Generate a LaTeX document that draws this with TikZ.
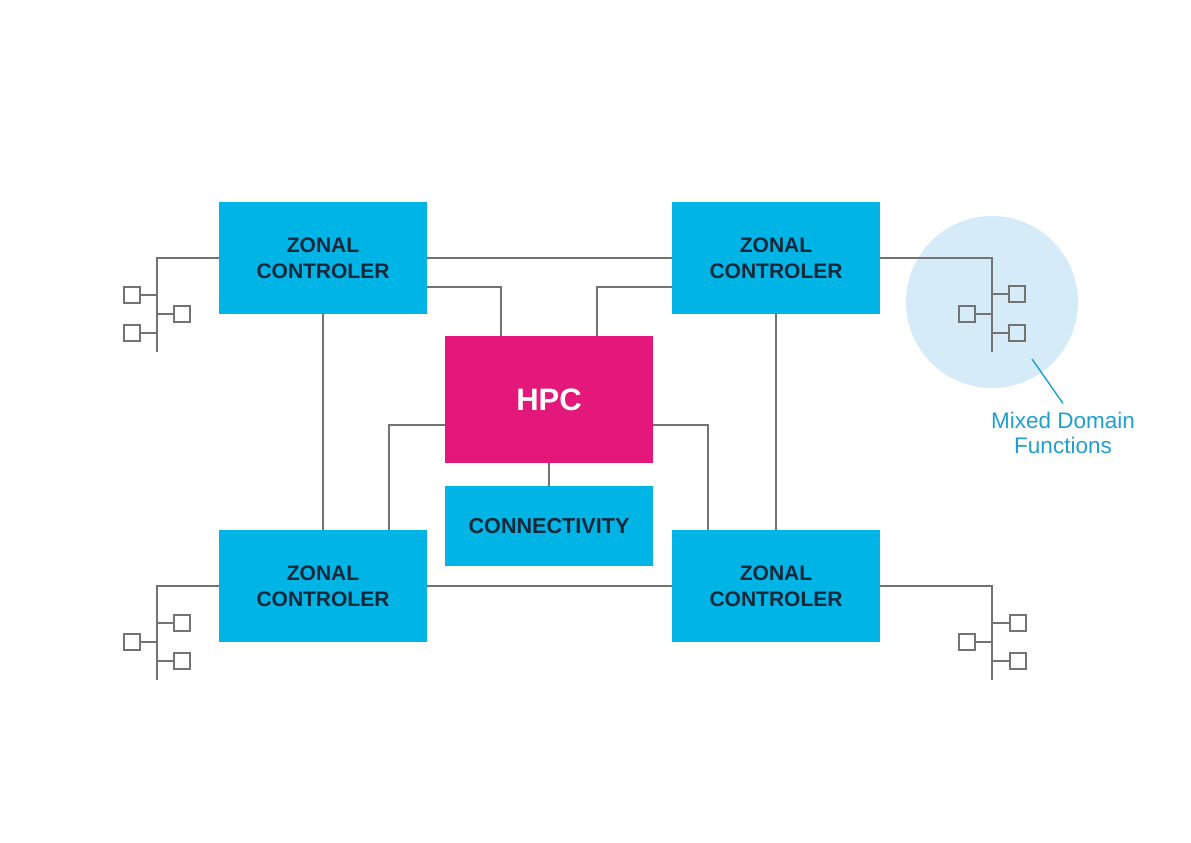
\documentclass[tikz,border=0pt]{standalone}
\usepackage{fontspec}
\setmainfont{Liberation Sans}
\definecolor{zcblue}{HTML}{00B4E6}
\definecolor{hpcmag}{HTML}{E4177A}
\definecolor{txtdark}{HTML}{14283A}
\definecolor{wire}{HTML}{737373}
\definecolor{halo}{HTML}{D5EBF8}
\definecolor{labblue}{HTML}{1E9FD2}
\tikzset{
  zcbox/.style={fill=zcblue, minimum width=208pt, minimum height=112pt, inner sep=0pt, align=center, text=txtdark, font=\fontsize{21}{26}\selectfont\bfseries},
  hpcbox/.style={fill=hpcmag, minimum width=208pt, minimum height=127pt, inner sep=0pt, text=white, font=\fontsize{31}{36}\selectfont\bfseries},
  connbox/.style={fill=zcblue, minimum width=208pt, minimum height=80pt, inner sep=0pt, text=txtdark, font=\fontsize{21.6}{26}\selectfont\bfseries},
  wireline/.style={draw=wire, line width=2pt},
  leaf/.style={draw=wire, line width=2pt, minimum width=16pt, minimum height=16pt, inner sep=0pt, fill=none},
}
\begin{document}
\begin{tikzpicture}[x=1pt,y=-1pt]
\useasboundingbox (0,0) rectangle (1191,843);
% halo
\fill[halo] (992,302) circle (86);
% main boxes
\node[zcbox] (tl) at (323,258) {ZONAL\\CONTROLER};
\node[zcbox] (tr) at (776,258) {ZONAL\\CONTROLER};
\node[zcbox] (bl) at (323,586) {ZONAL\\CONTROLER};
\node[zcbox] (br) at (776,586) {ZONAL\\CONTROLER};
\node[hpcbox] (hpc) at (549,399.5) {HPC};
\node[connbox] (conn) at (549,526) {CONNECTIVITY};
% connectors between boxes
\draw[wireline] (tl.east) -- (tr.west);
\draw[wireline] (bl.east) -- (br.west);
\draw[wireline] (tl.south) -- (bl.north);
\draw[wireline] (tr.south) -- (br.north);
\draw[wireline] (hpc.south) -- (conn.north);
\draw[wireline] ([yshift=-29pt]tl.east) -| ([xshift=-48pt]hpc.north);
\draw[wireline] ([yshift=-29pt]tr.west) -| ([xshift=48pt]hpc.north);
\draw[wireline] ([yshift=-25.5pt]hpc.west) -| ([xshift=66pt]bl.north);
\draw[wireline] ([yshift=-25.5pt]hpc.east) -| ([xshift=-68pt]br.north);
% trees: spine ends
\coordinate (tlS) at (157,352);
\coordinate (blS) at (157,680);
\coordinate (trS) at (992,352);
\coordinate (brS) at (992,680);
\draw[wireline] (tl.west) -| (tlS);
\draw[wireline] (bl.west) -| (blS);
\draw[wireline] (tr.east) -| (trS);
\draw[wireline] (br.east) -| (brS);
% leaves top-left
\node[leaf] (tl1) at (131.5,294.5) {};
\node[leaf] (tl2) at (181.5,313.5) {};
\node[leaf] (tl3) at (131.5,332.5) {};
\draw[wireline] (tl1.east) -- (tl1.east -| tlS);
\draw[wireline] (tl2.west) -- (tl2.west -| tlS);
\draw[wireline] (tl3.east) -- (tl3.east -| tlS);
% leaves bottom-left
\node[leaf] (bl1) at (181.5,623) {};
\node[leaf] (bl2) at (131.5,641.5) {};
\node[leaf] (bl3) at (181.5,660.5) {};
\draw[wireline] (bl1.west) -- (bl1.west -| blS);
\draw[wireline] (bl2.east) -- (bl2.east -| blS);
\draw[wireline] (bl3.west) -- (bl3.west -| blS);
% leaves top-right
\node[leaf] (tr1) at (1017,294) {};
\node[leaf] (tr2) at (967,313.5) {};
\node[leaf] (tr3) at (1017,332.5) {};
\draw[wireline] (tr1.west) -- (tr1.west -| trS);
\draw[wireline] (tr2.east) -- (tr2.east -| trS);
\draw[wireline] (tr3.west) -- (tr3.west -| trS);
% leaves bottom-right
\node[leaf] (br1) at (1017.5,623) {};
\node[leaf] (br2) at (966.5,641.5) {};
\node[leaf] (br3) at (1017.5,660.5) {};
\draw[wireline] (br1.west) -- (br1.west -| brS);
\draw[wireline] (br2.east) -- (br2.east -| brS);
\draw[wireline] (br3.west) -- (br3.west -| brS);
% label
\node[anchor=north, inner sep=0pt, align=center, text=labblue, font=\fontsize{22.5}{25}\selectfont] (mdf) at (1063,412) {Mixed Domain\\Functions};
\coordinate (lead) at (1032,359);
\draw[draw=labblue, line width=1.4pt] (lead) -- ([yshift=8.5pt]mdf.north);
\end{tikzpicture}
\end{document}
